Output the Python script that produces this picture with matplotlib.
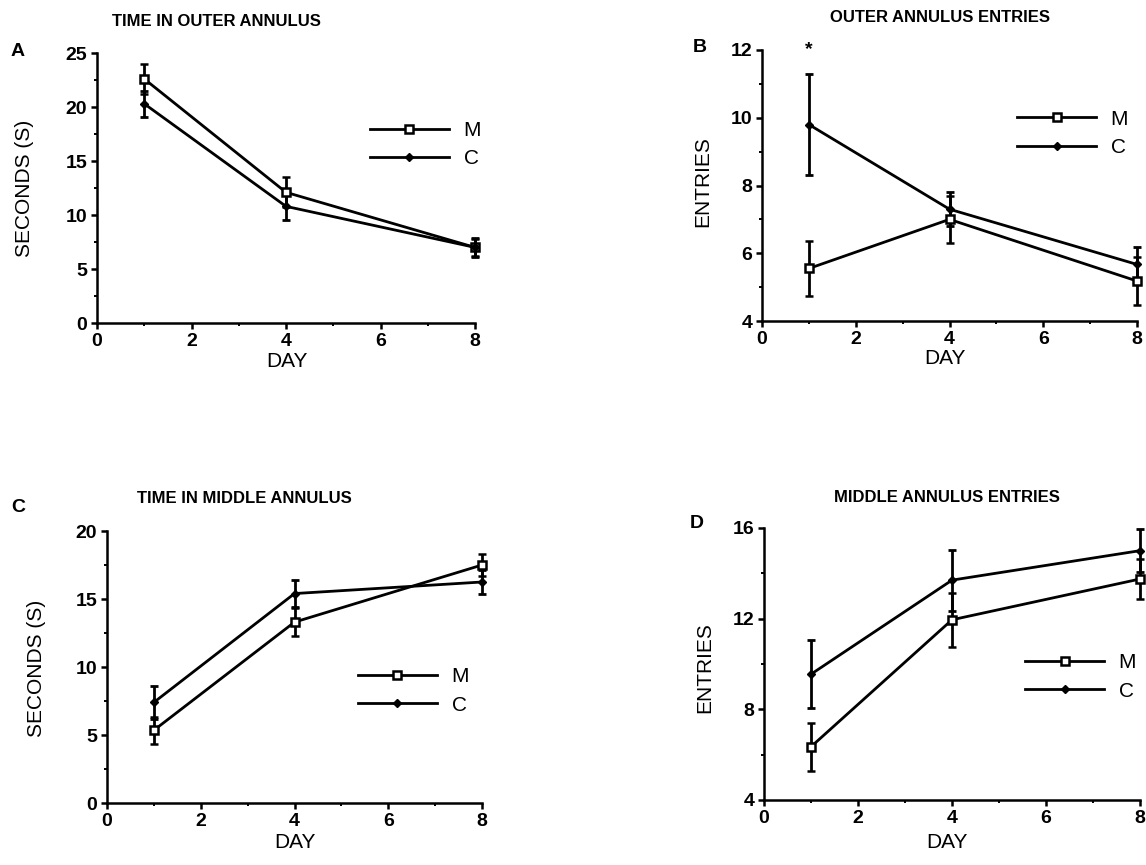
import matplotlib
matplotlib.use("Agg")
import matplotlib.pyplot as plt
from matplotlib.ticker import MultipleLocator

plt.rcParams['font.family'] = ['Liberation Sans', 'DejaVu Sans']

days = [1, 4, 8]

# Panel A: time in outer annulus
a_m = [22.6, 12.1, 7.0]
a_m_err = [1.4, 1.4, 0.8]
a_c = [20.3, 10.8, 7.0]
a_c_err = [1.2, 1.3, 0.9]

# Panel B: outer annulus entries
b_m = [5.55, 7.0, 5.18]
b_m_err = [0.8, 0.7, 0.7]
b_c = [9.8, 7.3, 5.67]
b_c_err = [1.5, 0.5, 0.5]

# Panel C: time in middle annulus
c_m = [5.35, 13.3, 17.5]
c_m_err = [1.0, 1.05, 0.8]
c_c = [7.4, 15.4, 16.25]
c_c_err = [1.2, 1.0, 0.9]

# Panel D: middle annulus entries
d_m = [6.35, 11.95, 13.75]
d_m_err = [1.05, 1.2, 0.9]
d_c = [9.55, 13.7, 15.0]
d_c_err = [1.5, 1.35, 0.95]

titles = ["TIME IN OUTER ANNULUS", "OUTER ANNULUS ENTRIES",
          "TIME IN MIDDLE ANNULUS", "MIDDLE ANNULUS ENTRIES"]
letters = ["A", "B", "C", "D"]
ylabels = ["SECONDS (S)", "ENTRIES", "SECONDS (S)", "ENTRIES"]
xlabel = "DAY"
series_names = ["M", "C"]

W, H = 1146, 865
fig = plt.figure(figsize=(W / 100, H / 100), dpi=100)

def px_axes(x0, x1, ytop, ybot):
    return fig.add_axes([x0 / W, 1 - ybot / H, (x1 - x0) / W, (ybot - ytop) / H])

axA = px_axes(97, 475, 53, 323)
axB = px_axes(762, 1137, 50, 321)
axC = px_axes(107, 482, 531, 803)
axD = px_axes(764, 1140, 528, 800)

panels = [
    (axA, a_m, a_m_err, a_c, a_c_err, (0, 25), 5, 2.5, (0.722, 0.661)),
    (axB, b_m, b_m_err, b_c, b_c_err, (4, 12), 2, 1, (0.68, 0.692)),
    (axC, c_m, c_m_err, c_c, c_c_err, (0, 20), 5, 2.5, (0.669, 0.412)),
    (axD, d_m, d_m_err, d_c, d_c_err, (4, 16), 4, 2, (0.694, 0.452)),
]

LW = 2.0
for ax, m, me, c, ce, ylim, maj, mnr, lpos in panels:
    ax.errorbar(days, m, yerr=me, color='black', lw=LW, marker='s', ms=5.5,
                mfc='white', mec='black', mew=1.8, capsize=3, capthick=LW,
                elinewidth=LW, clip_on=False, zorder=3, label=series_names[0])
    ax.errorbar(days, c, yerr=ce, color='black', lw=LW, marker='D', ms=4.5,
                mfc='black', mec='black', capsize=3, capthick=LW,
                elinewidth=LW, clip_on=False, zorder=3, label=series_names[1])
    ax.set_xlim(0, 8)
    ax.set_ylim(*ylim)
    ax.xaxis.set_major_locator(MultipleLocator(2))
    ax.xaxis.set_minor_locator(MultipleLocator(1))
    ax.yaxis.set_major_locator(MultipleLocator(maj))
    ax.yaxis.set_minor_locator(MultipleLocator(mnr))
    for s in ['top', 'right']:
        ax.spines[s].set_visible(False)
    for s in ['left', 'bottom']:
        ax.spines[s].set_linewidth(1.8)
    ax.tick_params(which='major', direction='out', length=4, width=1.8,
                   labelsize=14, pad=3)
    ax.tick_params(which='minor', direction='out', length=2.5, width=1.4)
    for lab in ax.get_xticklabels() + ax.get_yticklabels():
        lab.set_fontweight('bold')
    handles, labels = ax.get_legend_handles_labels()
    handles = [h[0] if isinstance(h, tuple) else h for h in handles]
    leg = ax.legend(handles, labels, loc='center left', bbox_to_anchor=lpos,
                    frameon=False, fontsize=15, handlelength=3.8,
                    handletextpad=0.7, labelspacing=0.45, borderpad=0,
                    borderaxespad=0, numpoints=1)
    for line in leg.get_lines():
        line.set_linewidth(LW)

# titles, panel letters, axis labels (pixel placement)
title_pos = [(216, 22), (940, 18), (244, 498), (947, 497)]
letter_pos = [(18, 52), (700, 48), (18, 507), (697, 523)]
ylabel_pos = [(24, 188), (703, 182), (37, 668), (705, 668)]
xlabel_pos = [(287, 361), (945, 358), (295, 842), (947, 842)]

for i in range(4):
    x, y = title_pos[i]
    fig.text(x / W, 1 - y / H, titles[i], ha='center', va='center',
             fontsize=12, fontweight='bold')
    x, y = letter_pos[i]
    fig.text(x / W, 1 - y / H, letters[i], ha='center', va='center',
             fontsize=14, fontweight='bold')
    x, y = ylabel_pos[i]
    fig.text(x / W, 1 - y / H, ylabels[i], ha='center', va='center',
             fontsize=15, rotation=90)
    x, y = xlabel_pos[i]
    fig.text(x / W, 1 - y / H, xlabel, ha='center', va='center', fontsize=15)

# significance marker
axB.text(1, 12.0, "*", ha='center', va='center', fontsize=14,
         fontweight='bold', clip_on=False)

fig.savefig("out.png", dpi=100)
